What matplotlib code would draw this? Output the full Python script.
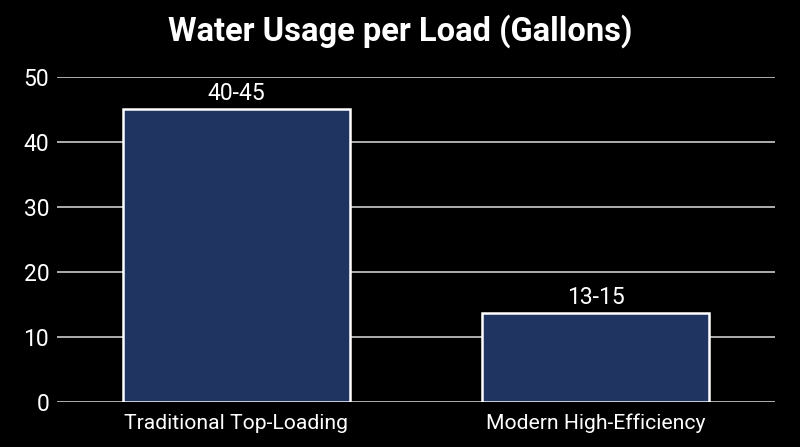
import matplotlib
matplotlib.use("Agg")
import matplotlib.pyplot as plt

categories = ["Traditional Top-Loading", "Modern High-Efficiency"]
values = [45, 13.7]
labels = ["40-45", "13-15"]
yticks = [0, 10, 20, 30, 40, 50]

plt.rcParams['font.family'] = ['Roboto', 'DejaVu Sans']

fig = plt.figure(figsize=(8, 4.47), dpi=100, facecolor='black')
ax = fig.add_axes([0.071, 0.101, 0.898, 0.727], facecolor='black')

x = list(range(len(categories)))
bars = ax.bar(x, values, width=0.63, color='#1f3461', edgecolor='white', linewidth=1.8, zorder=3)
for b, lab in zip(bars, labels):
    ax.annotate(lab, (b.get_x() + b.get_width() / 2, b.get_height()),
                xytext=(0, 3), textcoords='offset points', ha='center', va='bottom',
                color='white', fontsize=16.5)

ax.set_xlim(-0.5, 1.5)
ax.set_ylim(0, 50)
ax.set_yticks(yticks)
ax.set_xticks(x)
ax.set_xticklabels(categories)
ax.yaxis.grid(True, color='#cccccc', linewidth=1.2, zorder=0)
ax.set_axisbelow(True)
for s in ax.spines.values():
    s.set_visible(False)
ax.tick_params(axis='y', length=0, colors='white', labelsize=16.5, pad=5.5)
ax.tick_params(axis='x', length=0, colors='white', labelsize=15.2, pad=8.5)

fig.suptitle("Water Usage per Load (Gallons)", color='white', fontsize=23.5,
             fontweight='bold', y=0.968)

fig.savefig("out.png", dpi=100, facecolor='black')
